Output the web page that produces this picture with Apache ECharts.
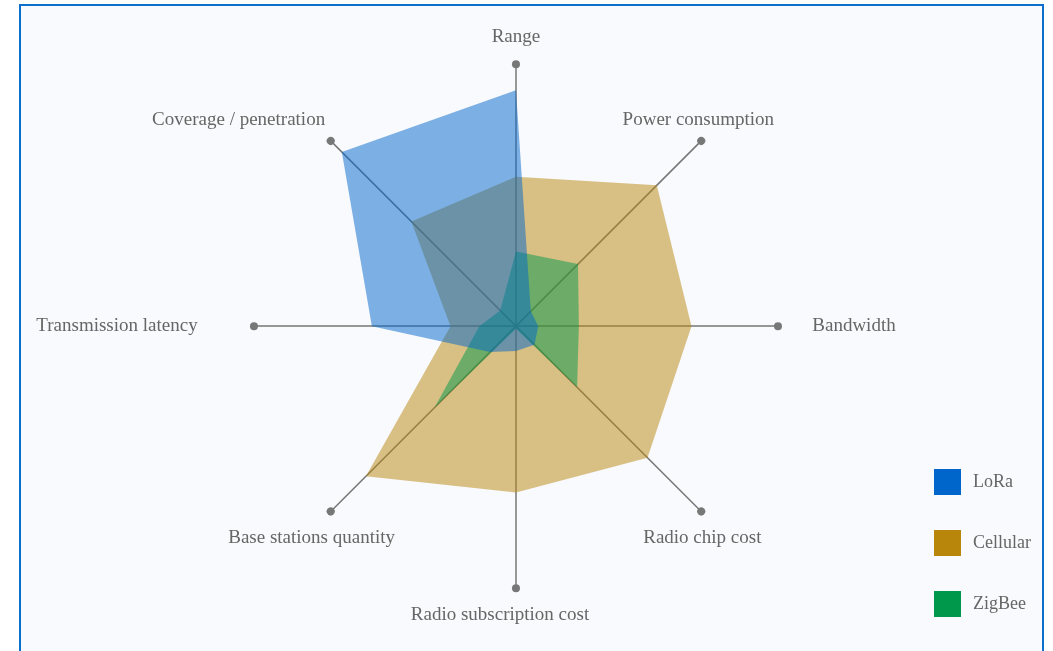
<!DOCTYPE html>
<html>
<head>
<meta charset="utf-8">
<script src="https://cdn.jsdelivr.net/npm/echarts@6/dist/echarts.min.js"></script>
<style>
	html, body { margin: 0; padding: 0; background: #fff; }
	.frame {
		position: absolute;
		left: 19px;
		top: 4px;
		width: 1021px;
		height: 700px;
		border: 2px solid #0b6fcc;
		background: #f9fafd;
	}
	.chart {
		position: absolute;
		left: 0;
		top: 0;
		width: 1053px;
		height: 651px;
	}
</style>
</head>
<body>
<div class="frame"></div>
<div class="chart" id="chart"></div>
<script>
// indicators, laid out counter-clockwise from the top
const indicators = ['Range', 'Coverage / penetration', 'Transmission latency', 'Base stations quantity',
	'Radio subscription cost', 'Radio chip cost', 'Bandwidth', 'Power consumption']
const maxValue = 10
const lora = [9.0, 9.4, 5.5, 1.4, 0.95, 1.0, 0.85, 0.8]
const cellular = [5.7, 5.65, 2.5, 8.1, 6.35, 7.1, 6.7, 7.6]
const zigbee = [2.85, 0.85, 1.4, 4.4, 0.1, 3.3, 2.4, 3.35]
const seriesNames = ['LoRa', 'Cellular', 'ZigBee']

const colors = { LoRa: '#0066cc', Cellular: '#b8860b', ZigBee: '#00994c' }
// shift some axis names sideways / down (rich padding)
const namePad = {
	'Coverage / penetration': [0, 146, 4, 0],
	'Transmission latency': [0, 220, 0, 0],
	'Bandwidth': [0, 0, 0, 98],
	'Power consumption': [0, 44, 4, 0],
	'Radio chip cost': [16, 36, 0, 0],
	'Base stations quantity': [16, 0, 0, 0],
	'Radio subscription cost': [0, 32, 0, 0],
}
const rich = {}
indicators.forEach((n, i) => {
	rich['n' + i] = {
		fontFamily: 'Liberation Serif',
		fontSize: 19,
		color: '#666',
		padding: namePad[n] || [0, 0, 0, 0]
	}
})

const chart = echarts.init(document.getElementById('chart'))
const item = (name, values) => ({
	name: name,
	value: values,
	itemStyle: { color: colors[name] },
	lineStyle: { width: 0 },
	areaStyle: { color: colors[name], opacity: 0.5 }
})
chart.setOption({
	color: [colors.LoRa, colors.Cellular, colors.ZigBee],
	legend: {
		data: seriesNames,
		orient: 'vertical',
		left: 929,
		top: 464,
		icon: 'rect',
		itemWidth: 27,
		itemHeight: 26,
		itemGap: 35,
		textStyle: {
			fontFamily: 'Liberation Serif',
			fontSize: 18,
			color: '#666',
			padding: [0, 0, 0, 7]
		}
	},
	radar: {
		center: ['49%', '50.1%'],
		radius: 262,
		startAngle: 90,
		shape: 'polygon',
		nameGap: 27,
		indicator: indicators.map(n => ({ name: n, max: maxValue })),
		axisName: {
			align: 'center',
			verticalAlign: 'middle',
			formatter: (name) => '{n' + indicators.indexOf(name) + '|' + name + '}',
			rich: rich
		},
		axisLine: {
			symbol: ['none', 'circle'],
			symbolSize: [8, 8],
			lineStyle: { color: '#777', width: 1.5 }
		},
		splitLine: { show: false },
		splitArea: { show: false },
		axisTick: { show: false },
		axisLabel: { show: false }
	},
	series: [{
		type: 'radar',
		symbol: 'none',
		silent: true,
		// drawing order: Cellular below, ZigBee, LoRa on top
		data: [item('Cellular', cellular), item('ZigBee', zigbee), item('LoRa', lora)]
	}]
})
</script>
</body>
</html>
